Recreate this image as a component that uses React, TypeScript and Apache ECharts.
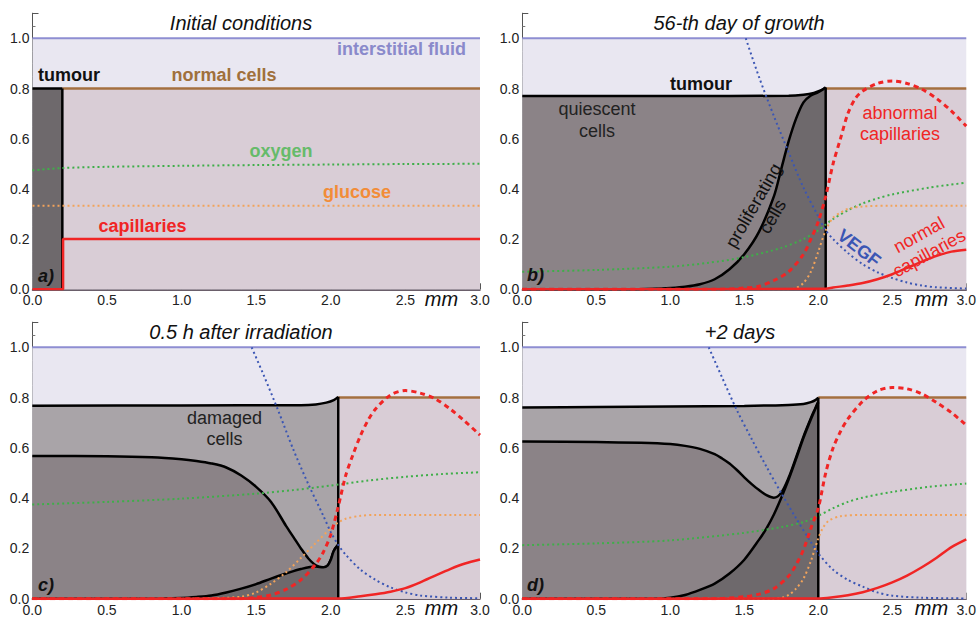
import React, { useEffect, useRef } from "react";
import * as echarts from "echarts";

const FONT = "'Liberation Sans', Arial, Helvetica, sans-serif";

// colours
const FLUID_FILL = "#E9E7F1";
const FLUID_LINE = "#8E8ED2";
const NORMAL_FILL = "#D9CDD6";
const NORMAL_LINE = "#A47040";
const PROLIF = "#6E696C";
const QUIESC = "#8B8387";
const DAMAGED = "#A9A4A8";
const RED = "#F02525";
const GREEN = "#3FAE49";
const ORANGE = "#F2A35A";
const BLUE = "#3B56B4";

// ---------- shared ----------
const xTicks = [0, 0.5, 1.0, 1.5, 2.0, 2.5, 3.0];
const yTicks = [0, 0.2, 0.4, 0.6, 0.8, 1.0];
const fluidLine = [[0, 1.0], [3.0, 1.0]];
const glucoseFlatA = [[0, 0.333], [3.0, 0.333]];

// ---------- panel a: initial conditions ----------
const aBoundary = 0.2;
const aTumour = [[0, 0.8], [0.2, 0.8]];
const aNormal = [[0.2, 0.8], [3.0, 0.8]];
const aCapillaries = [[0, 0], [0.205, 0], [0.205, 0.2], [3.0, 0.2]];
const aOxygen = [[0, 0.474], [0.2, 0.483], [0.5, 0.488], [1.0, 0.492], [1.5, 0.495], [2.0, 0.497], [2.5, 0.499], [3.0, 0.5]];

// ---------- panel b: 56-th day of growth ----------
const bBoundary = 2.05;
const bTotal = [[0, 0.77], [1.0, 0.77], [1.8, 0.771], [1.9, 0.775], [1.97, 0.782], [2.02, 0.793], [2.05, 0.804]];
const bProlif = [[0, 0], [0.7, 0], [0.9, 0.002], [1.0, 0.005], [1.1, 0.01], [1.2, 0.02], [1.3, 0.04], [1.4, 0.08], [1.5, 0.14], [1.6, 0.23], [1.7, 0.37], [1.75, 0.48], [1.8, 0.59], [1.85, 0.68], [1.9, 0.745], [1.95, 0.772], [2.0, 0.785], [2.05, 0.804]];
const bNormal = [[2.05, 0.8], [3.0, 0.8]];
const bOxygen = [[0, 0.07], [0.5, 0.077], [1.0, 0.09], [1.25, 0.105], [1.5, 0.128], [1.75, 0.165], [1.9, 0.2], [2.0, 0.235], [2.05, 0.258], [2.1, 0.28], [2.2, 0.315], [2.3, 0.342], [2.4, 0.362], [2.5, 0.378], [2.75, 0.405], [3.0, 0.425]];
const bGlucose = [[0, 0], [1.8, 0], [1.85, 0.005], [1.9, 0.025], [1.95, 0.07], [2.0, 0.15], [2.05, 0.235], [2.1, 0.285], [2.15, 0.305], [2.2, 0.32], [2.3, 0.33], [2.5, 0.333], [3.0, 0.333]];
const bVegf = [[1.51, 1.0], [1.6, 0.845], [1.7, 0.69], [1.8, 0.545], [1.9, 0.405], [2.0, 0.29], [2.05, 0.235], [2.1, 0.2], [2.2, 0.145], [2.3, 0.1], [2.4, 0.068], [2.5, 0.045], [2.6, 0.027], [2.7, 0.015], [2.8, 0.008], [3.0, 0.003]];
const bAbnormal = [[0, 0], [1.3, 0], [1.5, 0.005], [1.6, 0.012], [1.7, 0.035], [1.8, 0.07], [1.9, 0.14], [1.95, 0.2], [2.0, 0.27], [2.05, 0.37], [2.1, 0.5], [2.15, 0.6], [2.2, 0.7], [2.25, 0.76], [2.3, 0.79], [2.4, 0.82], [2.5, 0.83], [2.6, 0.82], [2.7, 0.797], [2.8, 0.76], [2.9, 0.71], [3.0, 0.65]];
const bCapillaries = [[0, 0], [2.05, 0.002], [2.1, 0.007], [2.2, 0.015], [2.3, 0.025], [2.4, 0.04], [2.5, 0.06], [2.6, 0.085], [2.7, 0.11], [2.8, 0.133], [2.9, 0.15], [3.0, 0.158]];

// ---------- panel c: 0.5 h after irradiation ----------
const cBoundary = 2.05;
const cTotal = [[0, 0.768], [1.0, 0.769], [1.8, 0.77], [1.9, 0.773], [1.97, 0.78], [2.02, 0.79], [2.05, 0.803]];
const cViable = [[0, 0.568], [0.5, 0.567], [0.8, 0.563], [1.0, 0.555], [1.1, 0.548], [1.2, 0.538], [1.3, 0.522], [1.4, 0.49], [1.5, 0.445], [1.6, 0.385], [1.7, 0.29], [1.75, 0.245], [1.8, 0.2], [1.85, 0.16], [1.9, 0.133], [1.95, 0.125], [1.98, 0.133], [2.0, 0.155], [2.02, 0.19], [2.05, 0.215]];
const cProlif = [[0, 0], [0.8, 0], [1.0, 0.003], [1.1, 0.007], [1.2, 0.013], [1.3, 0.025], [1.4, 0.04], [1.5, 0.058], [1.6, 0.08], [1.7, 0.1], [1.8, 0.118], [1.9, 0.128], [1.95, 0.125], [1.98, 0.133], [2.0, 0.155], [2.02, 0.19], [2.05, 0.215]];
const cNormal = [[2.05, 0.8], [3.0, 0.8]];
const cOxygen = [[0, 0.375], [0.5, 0.385], [1.0, 0.398], [1.5, 0.418], [1.75, 0.432], [2.0, 0.45], [2.25, 0.47], [2.5, 0.485], [2.75, 0.496], [3.0, 0.503]];
const cGlucose = [[0, 0], [1.0, 0], [1.2, 0.002], [1.4, 0.008], [1.5, 0.025], [1.6, 0.06], [1.7, 0.105], [1.8, 0.162], [1.9, 0.222], [2.0, 0.28], [2.05, 0.303], [2.1, 0.318], [2.2, 0.33], [2.3, 0.333], [3.0, 0.333]];
const cVegf = [[1.47, 1.0], [1.55, 0.89], [1.65, 0.745], [1.75, 0.592], [1.85, 0.455], [1.95, 0.33], [2.0, 0.265], [2.05, 0.214], [2.1, 0.175], [2.2, 0.115], [2.3, 0.075], [2.4, 0.045], [2.5, 0.025], [2.6, 0.013], [2.8, 0.004], [3.0, 0.002]];
const cAbnormal = [[0, 0], [1.4, 0], [1.5, 0.005], [1.6, 0.015], [1.7, 0.037], [1.8, 0.075], [1.9, 0.138], [1.95, 0.185], [2.0, 0.255], [2.05, 0.366], [2.1, 0.49], [2.15, 0.575], [2.2, 0.65], [2.25, 0.71], [2.3, 0.755], [2.4, 0.81], [2.5, 0.828], [2.6, 0.818], [2.7, 0.795], [2.8, 0.755], [2.9, 0.705], [3.0, 0.651]];
const cCapillaries = [[0, 0], [2.05, 0.001], [2.2, 0.01], [2.3, 0.018], [2.4, 0.028], [2.5, 0.042], [2.6, 0.065], [2.7, 0.092], [2.8, 0.118], [2.9, 0.14], [3.0, 0.156]];

// ---------- panel d: +2 days ----------
const dBoundary = 2.0;
const dTotal = [[0, 0.761], [0.5, 0.763], [1.0, 0.765], [1.5, 0.767], [1.8, 0.771], [1.9, 0.775], [1.95, 0.782], [1.98, 0.79], [2.0, 0.8]];
const dViable = [[0, 0.625], [0.5, 0.623], [0.8, 0.62], [1.0, 0.615], [1.1, 0.608], [1.2, 0.596], [1.3, 0.575], [1.35, 0.558], [1.4, 0.538], [1.45, 0.512], [1.5, 0.483], [1.55, 0.456], [1.6, 0.432], [1.65, 0.412], [1.7, 0.402], [1.75, 0.422], [1.8, 0.482], [1.85, 0.562], [1.9, 0.645], [1.95, 0.718], [1.98, 0.758], [2.0, 0.785]];
const dProlif = [[0, 0], [0.9, 0], [1.0, 0.004], [1.1, 0.015], [1.2, 0.035], [1.3, 0.06], [1.4, 0.1], [1.5, 0.155], [1.6, 0.235], [1.65, 0.28], [1.7, 0.335], [1.75, 0.402], [1.8, 0.475], [1.85, 0.556], [1.9, 0.64], [1.95, 0.714], [1.98, 0.755], [2.0, 0.78]];
const dNormal = [[2.0, 0.8], [3.0, 0.8]];
const dOxygen = [[0, 0.213], [0.5, 0.22], [1.0, 0.232], [1.5, 0.262], [1.75, 0.285], [1.9, 0.305], [2.0, 0.33], [2.1, 0.36], [2.2, 0.385], [2.3, 0.402], [2.5, 0.425], [2.75, 0.445], [3.0, 0.458]];
const dGlucose = [[0, 0], [1.7, 0], [1.75, 0.003], [1.8, 0.015], [1.85, 0.04], [1.9, 0.08], [1.95, 0.15], [2.0, 0.24], [2.03, 0.28], [2.07, 0.31], [2.15, 0.328], [2.3, 0.333], [3.0, 0.333]];
const dVegf = [[1.26, 1.0], [1.35, 0.88], [1.45, 0.75], [1.55, 0.635], [1.65, 0.525], [1.75, 0.42], [1.85, 0.32], [1.95, 0.225], [2.0, 0.18], [2.1, 0.115], [2.2, 0.075], [2.3, 0.048], [2.4, 0.025], [2.5, 0.012], [2.7, 0.004], [3.0, 0.001]];
const dAbnormal = [[0, 0], [1.3, 0], [1.5, 0.008], [1.6, 0.018], [1.7, 0.04], [1.8, 0.09], [1.85, 0.135], [1.9, 0.195], [1.95, 0.28], [2.0, 0.36], [2.05, 0.5], [2.1, 0.6], [2.15, 0.665], [2.2, 0.715], [2.3, 0.785], [2.4, 0.827], [2.5, 0.84], [2.6, 0.835], [2.7, 0.815], [2.8, 0.78], [2.9, 0.74], [3.0, 0.69]];
const dCapillaries = [[0, 0], [2.0, 0.001], [2.1, 0.006], [2.2, 0.014], [2.3, 0.026], [2.4, 0.043], [2.5, 0.065], [2.6, 0.092], [2.7, 0.125], [2.8, 0.163], [2.9, 0.205], [3.0, 0.236]];

const titles = ["Initial conditions", "56-th day of growth", "0.5 h after irradiation", "+2 days"];
const panelTags = ["a)", "b)", "c)", "d)"];

const grids = [
  { left: 32.5, top: 13.2, width: 447.5, height: 276.1 },
  { left: 522.3, top: 13.2, width: 447.7, height: 276.1 },
  { left: 32.3, top: 322.2, width: 447.7, height: 276.5 },
  { left: 522.3, top: 322.2, width: 447.7, height: 276.5 },
];

function area(g: number, data: number[][], fill: string, lineColor: string, lw: number, smooth: number | boolean, z: number) {
  return {
    type: "line", xAxisIndex: g, yAxisIndex: g, data, symbol: "none", smooth, silent: true, z,
    lineStyle: { color: lineColor, width: lw },
    areaStyle: { color: fill, opacity: 1 },
  };
}
function curve(g: number, data: number[][], color: string, lw: number, type: any, smooth: number | boolean, z: number) {
  return {
    type: "line", xAxisIndex: g, yAxisIndex: g, data, symbol: "none", smooth, silent: true, z,
    lineStyle: { color, width: lw, type, cap: "butt" },
  };
}
const DOT = [2, 3];
const DASH = [5, 4];

function commonBack(g: number, normal: number[][]) {
  return [
    area(g, fluidLine, FLUID_FILL, FLUID_LINE, 2, false, 1),
    area(g, normal, NORMAL_FILL, NORMAL_LINE, 2.5, false, 2),
  ];
}

function buildSeries() {
  const s: any[] = [];
  // a
  s.push(...commonBack(0, aNormal));
  s.push(area(0, aTumour, PROLIF, "#000", 2.5, false, 3));
  s.push(curve(0, [[aBoundary, 0], [aBoundary, 0.8]], "#000", 2.5, "solid", false, 4));
  s.push(curve(0, aOxygen, GREEN, 2, DOT, 0.3, 5));
  s.push(curve(0, glucoseFlatA, ORANGE, 2, DOT, false, 5));
  s.push(curve(0, aCapillaries, RED, 2.5, "solid", false, 6));
  // b
  s.push(...commonBack(1, bNormal));
  s.push(area(1, bTotal, QUIESC, "#000", 2.5, 0.3, 3));
  s.push(area(1, bProlif, PROLIF, "#000", 2.5, 0.3, 3.1));
  s.push(curve(1, [[bBoundary, 0], [bBoundary, 0.804]], "#000", 2.5, "solid", false, 4));
  s.push(curve(1, bOxygen, GREEN, 2, DOT, 0.3, 5));
  s.push(curve(1, bGlucose, ORANGE, 2, DOT, 0.3, 5));
  s.push(curve(1, bVegf, BLUE, 2, DOT, 0.3, 5));
  s.push(curve(1, bAbnormal, RED, 3, DASH, 0.3, 6));
  s.push(curve(1, bCapillaries, RED, 2.5, "solid", 0.3, 6));
  // c
  s.push(...commonBack(2, cNormal));
  s.push(area(2, cTotal, DAMAGED, "#000", 2.5, 0.3, 3));
  s.push(area(2, cViable, QUIESC, "#000", 2.5, 0.3, 3.1));
  s.push(area(2, cProlif, PROLIF, "#000", 2.5, 0.3, 3.2));
  s.push(curve(2, [[cBoundary, 0], [cBoundary, 0.803]], "#000", 2.5, "solid", false, 4));
  s.push(curve(2, cOxygen, GREEN, 2, DOT, 0.3, 5));
  s.push(curve(2, cGlucose, ORANGE, 2, DOT, 0.3, 5));
  s.push(curve(2, cVegf, BLUE, 2, DOT, 0.3, 5));
  s.push(curve(2, cAbnormal, RED, 3, DASH, 0.3, 6));
  s.push(curve(2, cCapillaries, RED, 2.5, "solid", 0.3, 6));
  // d
  s.push(...commonBack(3, dNormal));
  s.push(area(3, dTotal, DAMAGED, "#000", 2.5, 0.3, 3));
  s.push(area(3, dViable, QUIESC, "#000", 2.5, 0.3, 3.1));
  s.push(area(3, dProlif, PROLIF, "#000", 2.5, 0.3, 3.2));
  s.push(curve(3, [[dBoundary, 0], [dBoundary, 0.8]], "#000", 2.5, "solid", false, 4));
  s.push(curve(3, dOxygen, GREEN, 2, DOT, 0.3, 5));
  s.push(curve(3, dGlucose, ORANGE, 2, DOT, 0.3, 5));
  s.push(curve(3, dVegf, BLUE, 2, DOT, 0.3, 5));
  s.push(curve(3, dAbnormal, RED, 3, DASH, 0.3, 6));
  s.push(curve(3, dCapillaries, RED, 2.5, "solid", 0.3, 6));
  return s;
}

function txt(text: string, x: number, y: number, size: number, color: string, weight = "normal", style = "normal", rotation = 0, lineHeight = 21) {
  return {
    type: "text", x, y, rotation, z: 100, silent: true,
    style: {
      text, fill: color, fontSize: size, fontWeight: weight, fontStyle: style, fontFamily: FONT,
      textAlign: "center", textVerticalAlign: "middle", align: "center", verticalAlign: "middle", lineHeight,
    },
  };
}

function buildGraphics() {
  const g: any[] = [];
  const titlePos = [[241, 22.5], [739, 22.5], [241, 331.5], [740, 332]];
  const tagPos = [[46, 276], [535.5, 275], [46, 585], [535.5, 585]];
  const mmPos = [[441.5, 299], [931.5, 299], [441.5, 607.5], [931.5, 607.5]];
  for (let i = 0; i < 4; i++) {
    g.push(txt(titles[i], titlePos[i][0], titlePos[i][1], 20, "#111", "normal", "italic"));
    g.push(txt(panelTags[i], tagPos[i][0], tagPos[i][1], 18, "#111", "bold", "italic"));
    g.push(txt("mm", mmPos[i][0], mmPos[i][1], 20, "#111", "normal", "italic"));
  }
  // panel a
  g.push(txt("interstitial fluid", 401.5, 49, 18, "#8A8ACB", "bold"));
  g.push(txt("tumour", 69, 75, 18, "#111", "bold"));
  g.push(txt("normal cells", 224, 75, 18, "#A0703C", "bold"));
  g.push(txt("oxygen", 281, 151, 18, "#66BB6A", "bold"));
  g.push(txt("glucose", 357, 192, 18, "#F28C38", "bold"));
  g.push(txt("capillaries", 142.5, 226, 18, RED, "bold"));
  // panel b
  g.push(txt("tumour", 701, 83.5, 18, "#111", "bold"));
  g.push(txt("quiescent\ncells", 597, 120, 18, "#222", "normal", "normal", 0, 22));
  g.push(txt("abnormal\ncapillaries", 900, 123, 18, RED, "normal", "normal", 0, 21));
  g.push(txt("proliferating\ncells", 763, 211, 18, "#111", "normal", "normal", (60 * Math.PI) / 180, 22));
  g.push(txt("VEGF", 859, 248, 18, BLUE, "bold", "normal", (-38 * Math.PI) / 180));
  g.push(txt("normal\ncapillaries", 924, 244, 18, RED, "normal", "normal", (29 * Math.PI) / 180, 21));
  // panel c
  g.push(txt("damaged\ncells", 224.5, 428, 18, "#222", "normal", "normal", 0, 21));
  return g;
}

export default function App() {
  const ref = useRef<HTMLDivElement>(null);
  useEffect(() => {
    if (!ref.current) return;
    const chart = echarts.init(ref.current, null, { renderer: "svg" });
    const xAxis = grids.map((_, i) => ({
      type: "value", gridIndex: i, min: 0, max: 3, interval: 0.5,
      axisLine: { show: true, onZero: false, lineStyle: { color: "#3A2A3A", width: 1.5 } },
      axisTick: { show: true, inside: true, length: 6, lineStyle: { color: "#555" } },
      minorTick: { show: true, splitNumber: 5, length: 3, lineStyle: { color: "#777" } },
      splitLine: { show: false },
      axisLabel: { fontSize: 14, color: "#222", fontFamily: FONT, margin: 4, formatter: (v: number) => (xTicks.indexOf(v) >= 0 ? v.toFixed(1) : "") },
    }));
    const yAxis = grids.map((_, i) => ({
      type: "value", gridIndex: i, min: 0, max: 1.1, interval: 0.2,
      axisLine: { show: true, onZero: false, lineStyle: { color: "#555", width: 1 } },
      axisTick: { show: true, inside: true, length: 6, lineStyle: { color: "#555" } },
      minorTick: { show: true, splitNumber: 4, length: 3, lineStyle: { color: "#777" } },
      splitLine: { show: false },
      axisLabel: { fontSize: 14, color: "#222", fontFamily: FONT, margin: 3, formatter: (v: number) => (v > 1.05 ? "" : yTicks.some((t) => Math.abs(t - v) < 1e-6) ? v.toFixed(1) : "") },
    }));
    chart.setOption({
      animation: false,
      backgroundColor: "#fff",
      grid: grids.map((g) => ({ ...g, containLabel: false })),
      xAxis,
      yAxis,
      series: buildSeries(),
      graphic: buildGraphics(),
    });
    return () => chart.dispose();
  }, []);
  return <div ref={ref} style={{ position: "fixed", left: 0, top: 0, width: 979, height: 618 }} />;
}
